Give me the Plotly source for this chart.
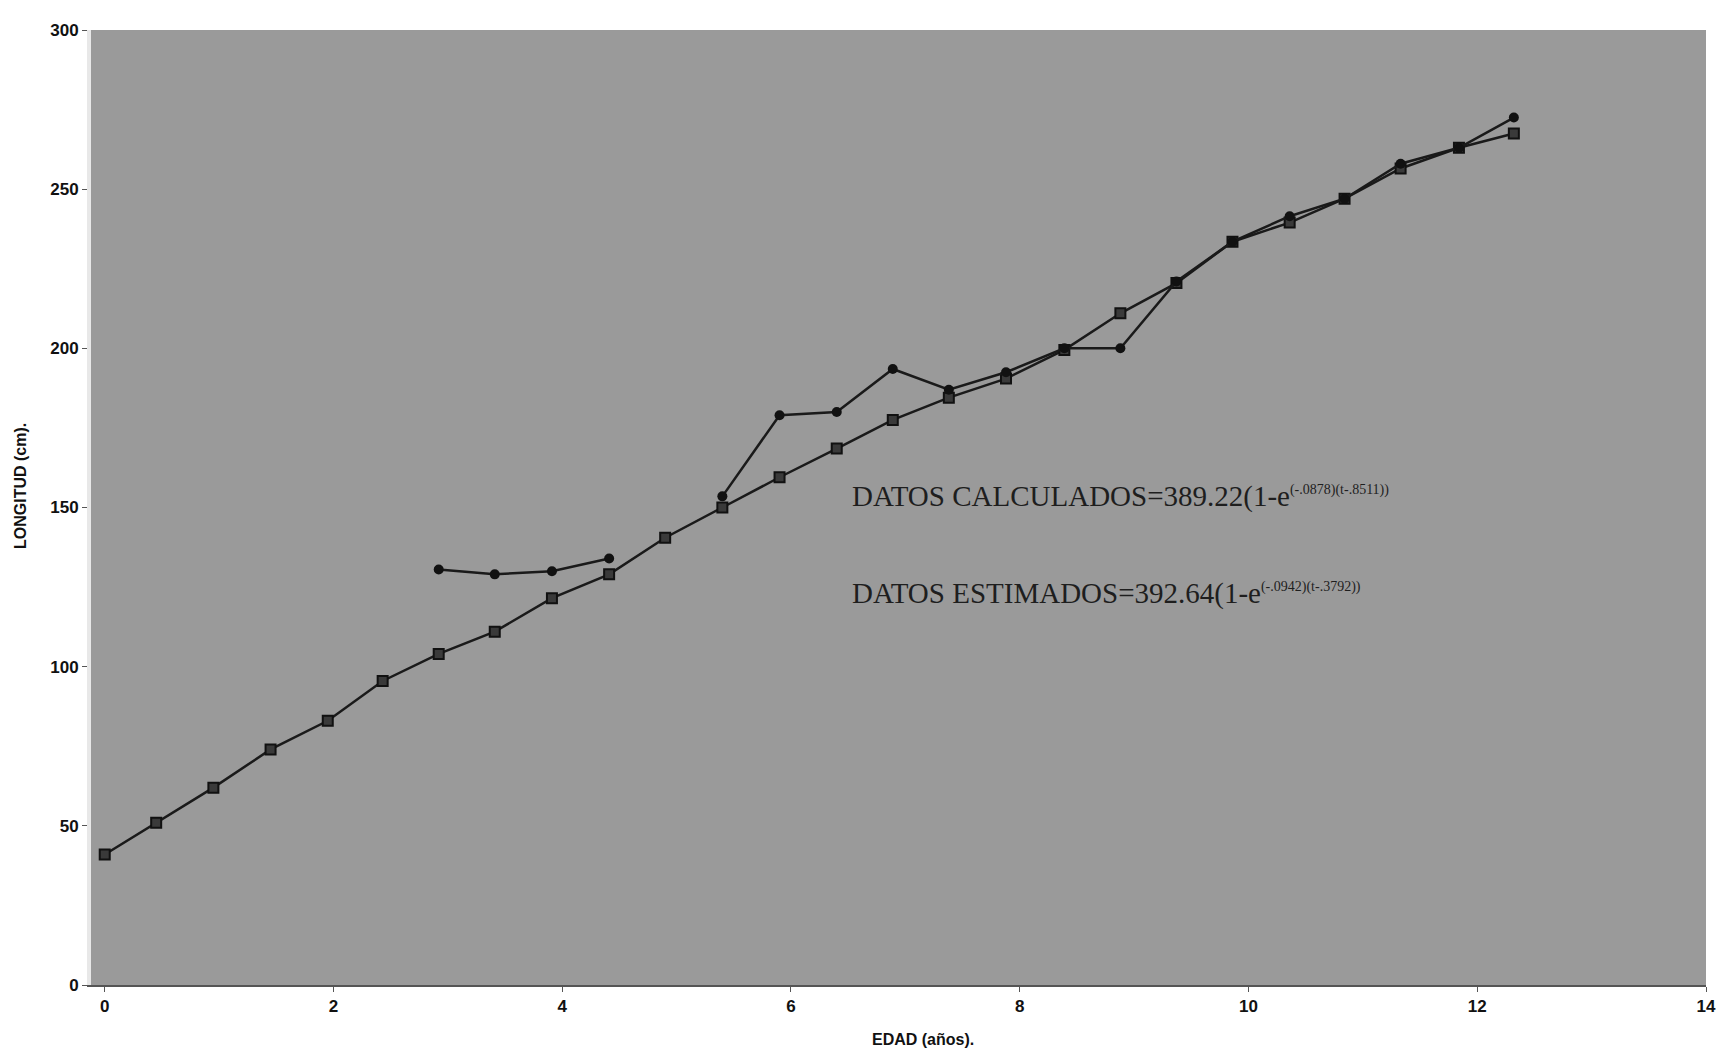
import plotly.graph_objects as go

# Ages (years) for the estimated series (squares)
edad_est = [0, 0.45, 0.95, 1.45, 1.95, 2.43, 2.92, 3.41, 3.91, 4.41, 4.9, 5.4, 5.9,
            6.4, 6.89, 7.38, 7.88, 8.39, 8.88, 9.37, 9.86, 10.36, 10.84, 11.33, 11.84, 12.32]
long_est = [41, 51, 62, 74, 83, 95.5, 104, 111, 121.5, 129, 140.5, 150, 159.5,
            168.5, 177.5, 184.5, 190.5, 199.5, 211, 220.5, 233.5, 239.5, 247, 256.5, 263, 267.5]

# Calculated series (circles)
edad_calc = [2.92, 3.41, 3.91, 4.41, 4.9, 5.4, 5.9, 6.4, 6.89, 7.38, 7.88, 8.39, 8.88,
             9.37, 9.86, 10.36, 10.84, 11.33, 11.84, 12.32]
long_calc = [130.5, 129, 130, 134, None, 153.5, 179, 180, 193.5, 187, 192.5, 200, 200,
             221, 233.5, 241.5, 247, 258, 263, 272.5]

x_ticks = [0, 2, 4, 6, 8, 10, 12, 14]
y_ticks = [0, 50, 100, 150, 200, 250, 300]

eq_calc = ("DATOS CALCULADOS=389.22(1-e"
           "<sup><span style='font-size:14px'>(-.0878)(t-.8511))</span></sup>")
eq_est = ("DATOS ESTIMADOS=392.64(1-e"
          "<sup><span style='font-size:14px'>(-.0942)(t-.3792))</span></sup>")

fig = go.Figure()
fig.add_trace(go.Scatter(
    x=edad_est, y=long_est, mode="lines+markers",
    line=dict(color="#1a1a1a", width=2.5),
    marker=dict(symbol="square", size=10, color="#3a3a3a",
                line=dict(color="#111111", width=2)),
    showlegend=False))
fig.add_trace(go.Scatter(
    x=edad_calc, y=long_calc, mode="lines+markers", connectgaps=False,
    line=dict(color="#1a1a1a", width=2.5),
    marker=dict(symbol="circle", size=10, color="#111111"),
    showlegend=False))

axis_font = dict(family="Liberation Sans, Arial, sans-serif", size=17, color="#111111")

fig.update_layout(
    width=1733, height=1056,
    margin=dict(l=91, r=27, t=30, b=71),
    paper_bgcolor="white",
    plot_bgcolor="#9a9a9a",
    xaxis=dict(range=[-0.12, 14], tickvals=x_ticks,
               ticktext=["<b>%d</b>" % v for v in x_ticks],
               showgrid=False, zeroline=False, showline=True, linecolor="#555555",
               linewidth=2, ticks="outside", ticklen=5, tickcolor="#555555",
               tickfont=axis_font),
    yaxis=dict(range=[0, 300], tickvals=y_ticks,
               ticktext=["<b>%d</b>" % v for v in y_ticks],
               showgrid=False, zeroline=False, showline=True, linecolor="#e8e8e8",
               linewidth=4, ticks="outside", ticklen=5, tickcolor="#555555",
               tickfont=axis_font),
    annotations=[
        dict(text="<b>EDAD (años).</b>", xref="paper", yref="paper", x=0.515, y=0,
             xanchor="center", yanchor="top", yshift=-44, showarrow=False,
             font=dict(family="Liberation Sans, Arial, sans-serif", size=16, color="#111111")),
        dict(text="<b>LONGITUD (cm).</b>", xref="paper", yref="paper", x=-0.044, y=0.5225,
             xanchor="center", yanchor="middle", textangle=-90, showarrow=False,
             font=dict(family="Liberation Sans, Arial, sans-serif", size=16, color="#111111")),
        dict(text=eq_calc, xref="paper", yref="paper", x=0.47, y=0.511,
             xanchor="left", yanchor="middle", showarrow=False,
             font=dict(family="Liberation Serif, Times New Roman, serif", size=29, color="#1e1e1e")),
        dict(text=eq_est, xref="paper", yref="paper", x=0.47, y=0.41,
             xanchor="left", yanchor="middle", showarrow=False,
             font=dict(family="Liberation Serif, Times New Roman, serif", size=29, color="#1e1e1e")),
    ],
)

fig.write_html("out.html")
